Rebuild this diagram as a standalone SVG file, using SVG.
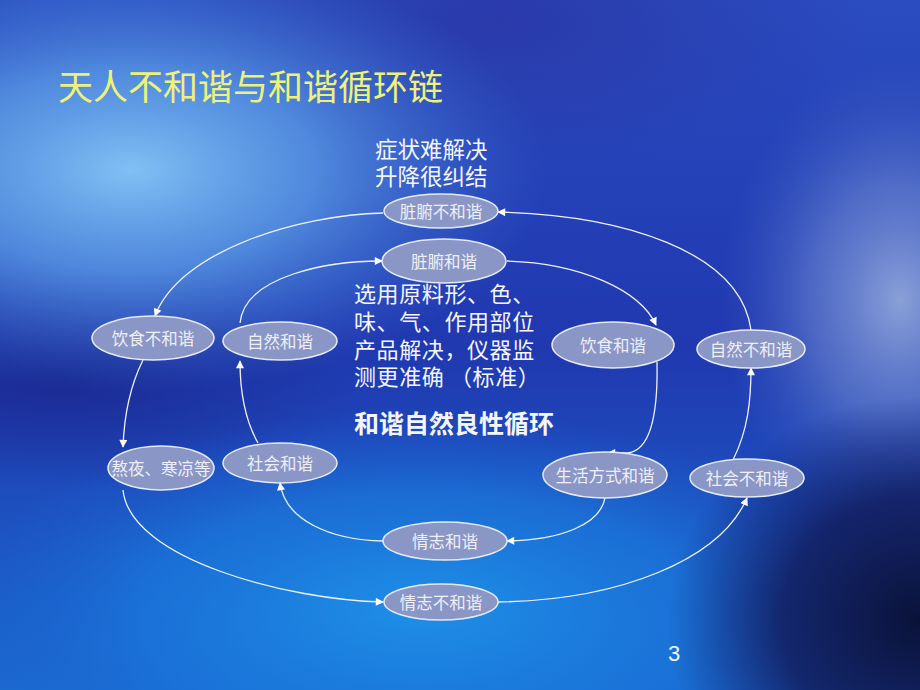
<svg xmlns="http://www.w3.org/2000/svg" width="920" height="690" viewBox="0 0 920 690">
<defs>
<linearGradient id="bg" x1="0" y1="0" x2="0" y2="1">
<stop offset="0" stop-color="#2a4cc0"/>
<stop offset="0.5" stop-color="#2038b0"/>
<stop offset="1" stop-color="#1a6ad0"/>
</linearGradient>
<radialGradient id="g1" cx="130" cy="170" r="320" gradientUnits="userSpaceOnUse" gradientTransform="translate(130 170) scale(1.3 0.7) translate(-130 -170)">
<stop offset="0" stop-color="#80c0f4" stop-opacity="1"/>
<stop offset="0.45" stop-color="#5a9ae6" stop-opacity="0.8"/>
<stop offset="1" stop-color="#3a70d0" stop-opacity="0"/>
</radialGradient>
<radialGradient id="g2" cx="420" cy="610" r="360" gradientUnits="userSpaceOnUse" gradientTransform="translate(420 610) scale(1.3 0.55) translate(-420 -610)">
<stop offset="0" stop-color="#1e90e8" stop-opacity="1"/>
<stop offset="0.6" stop-color="#1a78dc" stop-opacity="0.7"/>
<stop offset="1" stop-color="#1a60d0" stop-opacity="0"/>
</radialGradient>
<radialGradient id="g3" cx="900" cy="300" r="200" gradientUnits="userSpaceOnUse" gradientTransform="translate(900 300) scale(0.9 1.2) translate(-900 -300)">
<stop offset="0" stop-color="#8aa0d8" stop-opacity="1"/>
<stop offset="0.5" stop-color="#6a86d0" stop-opacity="0.6"/>
<stop offset="1" stop-color="#4060c0" stop-opacity="0"/>
</radialGradient>
<radialGradient id="g4" cx="920" cy="620" r="280" gradientUnits="userSpaceOnUse" gradientTransform="translate(920 620) scale(0.9 0.8) translate(-920 -620)">
<stop offset="0" stop-color="#0a1238" stop-opacity="1"/>
<stop offset="0.55" stop-color="#121c5c" stop-opacity="0.85"/>
<stop offset="1" stop-color="#142070" stop-opacity="0"/>
</radialGradient>
<radialGradient id="g5" cx="60" cy="380" r="220" gradientUnits="userSpaceOnUse" gradientTransform="translate(60 380) scale(1.4 0.5) translate(-60 -380)">
<stop offset="0" stop-color="#1a2890" stop-opacity="0.9"/>
<stop offset="1" stop-color="#1a2890" stop-opacity="0"/>
</radialGradient>
<radialGradient id="g6" cx="500" cy="20" r="260" gradientUnits="userSpaceOnUse" gradientTransform="translate(500 20) scale(1.4 0.6) translate(-500 -20)">
<stop offset="0" stop-color="#2a38a8" stop-opacity="0.9"/>
<stop offset="1" stop-color="#2a38a8" stop-opacity="0"/>
</radialGradient>
<marker id="ar" viewBox="0 0 10 10" refX="9" refY="5" markerWidth="9" markerHeight="8" markerUnits="userSpaceOnUse" orient="auto">
<path d="M0,0 L10,5 L0,10 z" fill="#ffffff"/>
</marker>
<style>
.n ellipse{fill:#8a96c6;stroke:#e4eaf8;stroke-width:1.5}
.n text{font-family:"Noto Sans CJK SC","Noto Sans CJK JP",sans-serif;font-size:16.5px;fill:#eef0f8;text-anchor:middle;dominant-baseline:central}
.c path{fill:none;stroke:#eef2fc;stroke-width:1.3;marker-end:url(#ar)}
.t{font-family:"Noto Sans CJK SC","Noto Sans CJK JP",sans-serif;fill:#f4f6fc}
</style>
</defs>
<rect width="920" height="690" fill="url(#bg)"/>
<rect width="920" height="690" fill="url(#g6)"/>
<rect width="920" height="690" fill="url(#g5)"/>
<rect width="920" height="690" fill="url(#g1)"/>
<rect width="920" height="690" fill="url(#g2)"/>
<rect width="920" height="690" fill="url(#g3)"/>
<rect width="920" height="690" fill="url(#g4)"/>

<text x="58" y="100" font-family="Noto Sans CJK SC, Noto Sans CJK JP, sans-serif" font-size="35" fill="#eef27a">天人不和谐与和谐循环链</text>

<text class="t" font-size="22.5"><tspan x="375" y="158">症状难解决</tspan><tspan x="375" y="185">升降很纠结</tspan></text>

<text class="t" font-size="22" letter-spacing="0.6"><tspan x="354" y="302">选用原料形、色、</tspan><tspan x="354" y="330">味、气、作用部位</tspan><tspan x="354" y="358">产品解决，仪器监</tspan><tspan x="354" y="385">测更准确 （标准）</tspan></text>
<text class="t" x="354" y="433" font-size="25" font-weight="bold">和谐自然良性循环</text>

<g class="c" id="connectors">
<path d="M383,213 C300,215 180,250 155,316"/>
<path d="M143,360 C128,390 124,420 123,447"/>
<path d="M123,490 C130,560 290,600 383,602"/>
<path d="M498,602 C620,600 720,560 747,498"/>
<path d="M733,460 C748,430 751,400 751,368"/>
<path d="M751,330 C740,250 620,215 498,212"/>
<path d="M240,323 C245,275 330,261 382,261"/>
<path d="M507,261 C580,263 640,290 656,325"/>
<path d="M657,362 C658,410 652,450 628,453 L608,453"/>
<path d="M605,498 C600,525 560,540 507,541"/>
<path d="M383,541 C330,540 285,520 280,483"/>
<path d="M258,443 C245,420 240,390 240,361"/>
</g>

<g class="n" id="zangfu-buhexie"><ellipse cx="441" cy="211" rx="57" ry="17"/><text x="441" y="211">脏腑不和谐</text></g>
<g class="n" id="zangfu-hexie"><ellipse cx="444" cy="261" rx="62" ry="22"/><text x="444" y="261">脏腑和谐</text></g>
<g class="n" id="yinshi-buhexie"><ellipse cx="153" cy="338" rx="61" ry="22"/><text x="153" y="338">饮食不和谐</text></g>
<g class="n" id="ziran-hexie"><ellipse cx="280" cy="341" rx="57" ry="19"/><text x="280" y="341">自然和谐</text></g>
<g class="n" id="yinshi-hexie"><ellipse cx="613" cy="345" rx="61" ry="23"/><text x="613" y="345">饮食和谐</text></g>
<g class="n" id="ziran-buhexie"><ellipse cx="751" cy="349" rx="54" ry="19"/><text x="751" y="349">自然不和谐</text></g>
<g class="n" id="aoye"><ellipse cx="161" cy="468" rx="53" ry="22"/><text x="161" y="468">熬夜、寒凉等</text></g>
<g class="n" id="shehui-hexie"><ellipse cx="280" cy="463" rx="57" ry="20"/><text x="280" y="463">社会和谐</text></g>
<g class="n" id="shenghuo-hexie"><ellipse cx="605" cy="475" rx="62" ry="23"/><text x="605" y="475">生活方式和谐</text></g>
<g class="n" id="shehui-buhexie"><ellipse cx="747" cy="478" rx="57" ry="19"/><text x="747" y="478">社会不和谐</text></g>
<g class="n" id="qingzhi-hexie"><ellipse cx="445" cy="541" rx="62" ry="19"/><text x="445" y="541">情志和谐</text></g>
<g class="n" id="qingzhi-buhexie"><ellipse cx="441" cy="602" rx="57" ry="18"/><text x="441" y="602">情志不和谐</text></g>

<text x="674" y="661" font-family="Liberation Sans, Arial, sans-serif" font-size="22" fill="#f4f6fc" text-anchor="middle">3</text>
</svg>
